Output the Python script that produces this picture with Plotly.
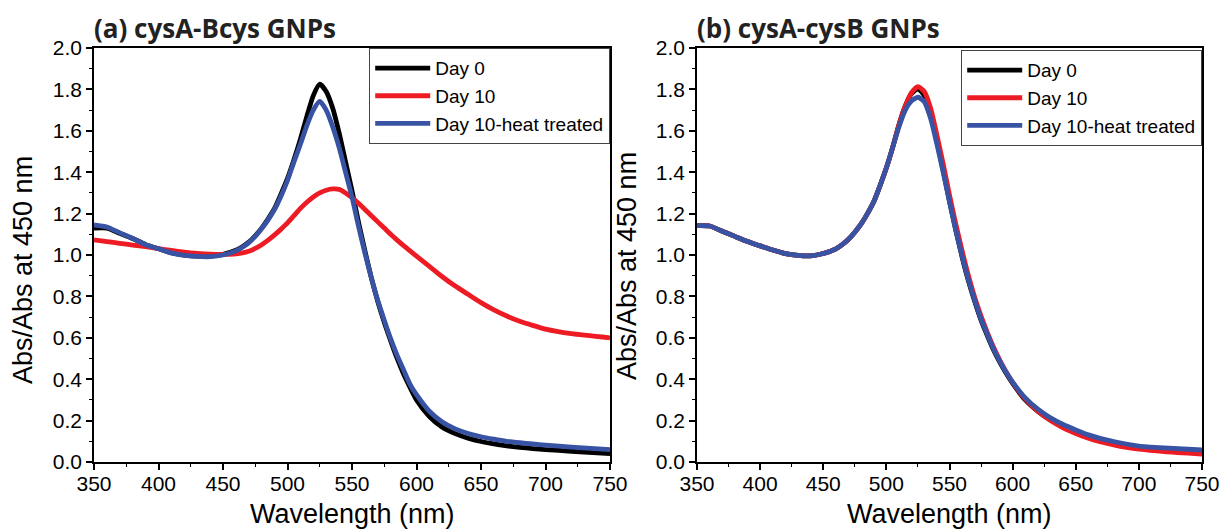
import plotly.graph_objects as go

W, H = 1224, 531

# ---------------- data ----------------
wl = [350, 360, 370, 380, 390, 400, 410, 420, 430, 440, 450, 460,
      465, 470, 475, 480, 485, 490, 495, 500, 505, 510, 515, 520, 525, 530, 535, 540,
      545, 550, 555, 560, 565, 570, 575, 580, 585, 590, 595, 600,
      610, 620, 630, 640, 650, 660, 670, 680, 690, 700, 720, 750]

# panel (a) cysA-Bcys GNPs
a_day0 = [1.13, 1.13, 1.105, 1.08, 1.05, 1.03, 1.01, 1.0, 0.995, 0.995, 1.003, 1.023,
          1.04, 1.062, 1.093, 1.13, 1.175, 1.225, 1.295, 1.37, 1.46, 1.56, 1.67, 1.77, 1.825, 1.79, 1.71, 1.59,
          1.45, 1.31, 1.16, 1.02, 0.89, 0.775, 0.675, 0.585, 0.50, 0.425, 0.36, 0.30,
          0.22, 0.168, 0.137, 0.115, 0.099, 0.087, 0.078, 0.071, 0.065, 0.06, 0.052, 0.04]
a_day10 = [1.073, 1.065, 1.056, 1.048, 1.04, 1.031, 1.022, 1.014, 1.008, 1.004, 1.003, 1.006,
           1.01, 1.018, 1.032, 1.05, 1.072, 1.097, 1.125, 1.155, 1.19, 1.225, 1.255, 1.28, 1.30, 1.313, 1.319, 1.317,
           1.30, 1.277, 1.25, 1.22, 1.19, 1.16, 1.13, 1.10, 1.072, 1.045, 1.02, 0.995,
           0.945, 0.895, 0.85, 0.81, 0.77, 0.735, 0.705, 0.68, 0.66, 0.642, 0.62, 0.60]
a_heat = [1.145, 1.135, 1.107, 1.08, 1.05, 1.03, 1.01, 0.998, 0.993, 0.992, 1.0, 1.02,
          1.037, 1.06, 1.09, 1.128, 1.17, 1.22, 1.285, 1.36, 1.45, 1.535, 1.625, 1.70, 1.742, 1.70, 1.62, 1.52,
          1.40, 1.28, 1.14, 1.01, 0.89, 0.78, 0.685, 0.595, 0.515, 0.445, 0.375, 0.325,
          0.245, 0.193, 0.16, 0.138, 0.122, 0.11, 0.10, 0.093, 0.087, 0.081, 0.072, 0.06]

# panel (b) cysA-cysB GNPs
b_day0 = [1.142, 1.14, 1.115, 1.09, 1.065, 1.044, 1.024, 1.007, 0.998, 0.996, 1.007, 1.03,
          1.05, 1.076, 1.11, 1.15, 1.2, 1.257, 1.335, 1.421, 1.52, 1.63, 1.72, 1.78, 1.803, 1.77, 1.68, 1.55,
          1.41, 1.26, 1.12, 0.99, 0.875, 0.775, 0.685, 0.61, 0.54, 0.48, 0.427, 0.38,
          0.30, 0.245, 0.203, 0.17, 0.143, 0.12, 0.103, 0.09, 0.079, 0.07, 0.058, 0.045]
b_day10 = [1.142, 1.14, 1.115, 1.09, 1.065, 1.044, 1.024, 1.007, 0.998, 0.996, 1.007, 1.03,
           1.05, 1.076, 1.11, 1.15, 1.2, 1.257, 1.335, 1.421, 1.52, 1.63, 1.72, 1.785, 1.813, 1.79, 1.71, 1.58,
           1.44, 1.29, 1.15, 1.02, 0.90, 0.795, 0.705, 0.625, 0.553, 0.49, 0.434, 0.385,
           0.305, 0.245, 0.20, 0.165, 0.138, 0.115, 0.097, 0.083, 0.071, 0.062, 0.05, 0.038]
b_heat = [1.142, 1.14, 1.115, 1.09, 1.065, 1.044, 1.024, 1.007, 0.998, 0.996, 1.007, 1.03,
          1.05, 1.076, 1.11, 1.15, 1.2, 1.257, 1.335, 1.421, 1.52, 1.62, 1.70, 1.745, 1.762, 1.74, 1.66, 1.536,
          1.40, 1.257, 1.12, 0.994, 0.88, 0.78, 0.69, 0.616, 0.545, 0.485, 0.432, 0.386,
          0.31, 0.255, 0.213, 0.181, 0.155, 0.131, 0.113, 0.099, 0.087, 0.077, 0.068, 0.058]

series_names = ["Day 0", "Day 10", "Day 10-heat treated"]
colors = ["#000000", "#ed1c24", "#3953a4"]
panel_titles = ["(a) cysA-Bcys GNPs", "(b) cysA-cysB GNPs"]
x_title = "Wavelength (nm)"
y_title = "Abs/Abs at 450 nm"

# ---------------- figure ----------------
fig = go.Figure()

panels = [(a_day0, a_day10, a_heat), (b_day0, b_day10, b_heat)]
for p, ys in enumerate(panels):
    xa = "x" if p == 0 else "x2"
    ya = "y" if p == 0 else "y2"
    lg = "legend" if p == 0 else "legend2"
    for name, col, y in zip(series_names, colors, ys):
        fig.add_trace(go.Scatter(
            x=wl, y=y, mode="lines", name=name,
            line=dict(color=col, width=4.8, shape="spline", smoothing=0.6),
            xaxis=xa, yaxis=ya, legend=lg, showlegend=True))

# pixel geometry
L1, R1 = 94, 610
L2, R2 = 697, 1202
TOP, BOT = 48, 462


def px(x):
    return x / W


def py(y):
    return 1 - y / H


tick_font = dict(family="Liberation Sans, Arial", size=21, color="black")


def xaxis(dom, anchor):
    return dict(domain=[px(dom[0]), px(dom[1])], anchor=anchor, range=[350, 750],
                dtick=50, tick0=350, ticks="outside", ticklen=6, tickwidth=1.5,
                tickcolor="black", showline=True, linecolor="black", linewidth=1.5,
                mirror=True, showgrid=False, zeroline=False, tickfont=tick_font,
                automargin=False, ticklabelstandoff=-4,
                minor=dict(ticks="outside", ticklen=3, tickwidth=1.2, dtick=25,
                           tick0=350, tickcolor="black", showgrid=False))


def yaxis(anchor):
    return dict(domain=[py(BOT), py(TOP)], anchor=anchor, range=[0, 2.0],
                dtick=0.2, tick0=0, tickformat=".1f", ticks="outside", ticklen=6,
                tickwidth=1.5, tickcolor="black", showline=True, linecolor="black",
                linewidth=1.5, mirror=True, showgrid=False, zeroline=False,
                tickfont=tick_font, automargin=False,
                minor=dict(ticks="outside", ticklen=3, tickwidth=1.2, dtick=0.1,
                           tick0=0, tickcolor="black", showgrid=False))


leg_common = dict(xanchor="right", yanchor="top", bgcolor="white",
                  bordercolor="#444444", borderwidth=1.2,
                  font=dict(family="Liberation Sans, Arial", size=19, color="black"),
                  tracegroupgap=0, itemwidth=55)

fig.update_layout(
    width=W, height=H,
    margin=dict(l=0, r=0, t=0, b=0),
    paper_bgcolor="white", plot_bgcolor="white",
    xaxis=xaxis((L1, R1), "y"),
    yaxis=yaxis("x"),
    xaxis2=xaxis((L2, R2), "y2"),
    yaxis2=yaxis("x2"),
    legend=dict(x=px(R1), y=py(TOP), **leg_common),
    legend2=dict(x=px(R2), y=py(TOP + 2), **leg_common),
    showlegend=True,
)

ann = []
for (l, r), t in zip([(L1, R1), (L2, R2)], panel_titles):
    ann.append(dict(text=t, x=px(l - 2), y=py(28), xref="paper", yref="paper",
                    xanchor="left", yanchor="middle", showarrow=False,
                    font=dict(family="Open Sans", size=26, color="#222222", weight="bold")))
    ann.append(dict(text=x_title, x=px((l + r) / 2), y=py(514), xref="paper", yref="paper",
                    xanchor="center", yanchor="middle", showarrow=False,
                    font=dict(family="Liberation Sans, Arial", size=27, color="black")))
ann.append(dict(text=y_title, x=px(23), y=py(270), xref="paper", yref="paper",
                xanchor="center", yanchor="middle", showarrow=False, textangle=-90,
                font=dict(family="Liberation Sans, Arial", size=27, color="black")))
ann.append(dict(text=y_title, x=px(627), y=py(266), xref="paper", yref="paper",
                xanchor="center", yanchor="middle", showarrow=False, textangle=-90,
                font=dict(family="Liberation Sans, Arial", size=27, color="black")))
fig.update_layout(annotations=ann)

fig.write_html("out.html", config={"displayModeBar": False},
               post_script="document.body.style.margin='0';document.body.style.padding='0';")
